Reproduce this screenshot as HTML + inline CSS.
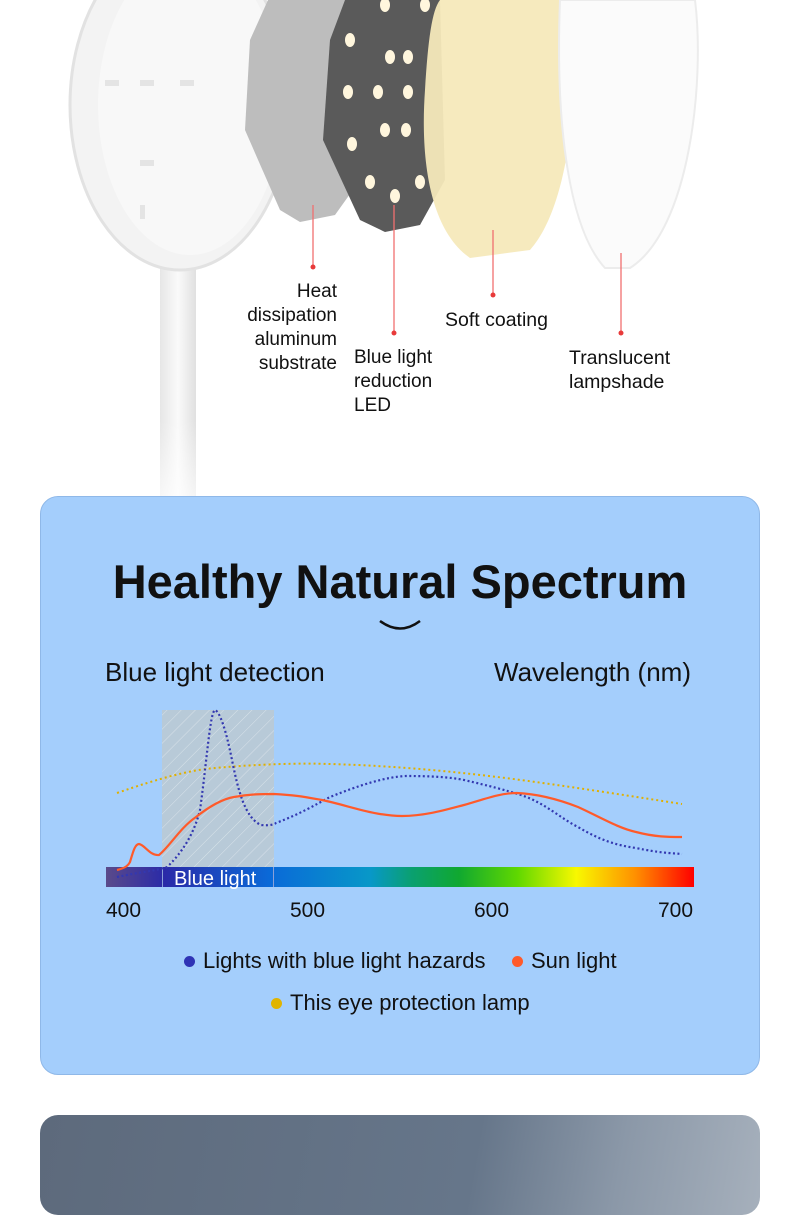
<!DOCTYPE html>
<html><head><meta charset="utf-8"><style>
html,body{margin:0;padding:0;}
body{width:800px;height:1178px;position:relative;overflow:hidden;background:#fff;font-family:"Liberation Sans",sans-serif;}
.t{position:absolute;white-space:nowrap;color:#111;}
</style></head><body>
<svg width="800" height="500" style="position:absolute;left:0;top:0">
  <defs>
    <linearGradient id="stem" x1="0" x2="1"><stop offset="0" stop-color="#e6e6e6"/><stop offset="0.5" stop-color="#fafafa"/><stop offset="1" stop-color="#e0e0e0"/></linearGradient>
    <linearGradient id="fade" x1="0" y1="0" x2="0" y2="1"><stop offset="0" stop-color="#fff" stop-opacity="0"/><stop offset="1" stop-color="#fff" stop-opacity="0.7"/></linearGradient>
  </defs>
  <rect x="160" y="250" width="36" height="250" fill="url(#stem)"/>
  <rect x="150" y="420" width="60" height="80" fill="url(#fade)"/>
  <ellipse cx="180" cy="105" rx="110" ry="165" fill="#f3f3f3" stroke="#e2e2e2" stroke-width="3"/>
  <ellipse cx="190" cy="105" rx="92" ry="150" fill="#f8f8f8"/>
  <g fill="#e4e4e4">
    <rect x="105" y="80" width="14" height="6"/><rect x="140" y="80" width="14" height="6"/><rect x="180" y="80" width="14" height="6"/>
    <rect x="140" y="160" width="14" height="6"/><rect x="140" y="205" width="5" height="14"/>
  </g>
  <polygon points="268,0 350,0 360,180 335,215 300,222 280,210 245,130 250,40" fill="#bdbdbd"/>
  <polygon points="345,0 440,0 445,180 420,225 385,232 360,220 323,140 330,40" fill="#5a5a5a"/>
  <g fill="#fff6dd">
    <ellipse cx="350" cy="40" rx="5" ry="7"/><ellipse cx="390" cy="57" rx="5" ry="7"/><ellipse cx="408" cy="57" rx="5" ry="7"/>
    <ellipse cx="348" cy="92" rx="5" ry="7"/><ellipse cx="378" cy="92" rx="5" ry="7"/><ellipse cx="408" cy="92" rx="5" ry="7"/>
    <ellipse cx="385" cy="130" rx="5" ry="7"/><ellipse cx="406" cy="130" rx="5" ry="7"/><ellipse cx="352" cy="144" rx="5" ry="7"/>
    <ellipse cx="370" cy="182" rx="5" ry="7"/><ellipse cx="420" cy="182" rx="5" ry="7"/><ellipse cx="395" cy="196" rx="5" ry="7"/>
    <ellipse cx="385" cy="5" rx="5" ry="7"/><ellipse cx="425" cy="5" rx="5" ry="7"/>
  </g>
  <path d="M440,0 L570,0 C580,60 575,200 530,250 L470,258 C430,230 420,160 425,90 C428,40 432,10 440,0Z" fill="#f5e9bb" opacity="0.95"/>
  <path d="M560,0 L695,0 C705,80 690,230 630,268 L605,268 C570,230 555,130 560,0Z" fill="#fbfbfb" stroke="#ececec" stroke-width="2"/>
  <g stroke="#f07070" stroke-width="1.3">
    <line x1="313" y1="205" x2="313" y2="266"/><line x1="394" y1="205" x2="394" y2="332"/>
    <line x1="493" y1="230" x2="493" y2="294"/><line x1="621" y1="253" x2="621" y2="332"/>
  </g>
  <g fill="#e83a3a"><circle cx="313" cy="267" r="2.5"/><circle cx="394" cy="333" r="2.5"/><circle cx="493" cy="295" r="2.5"/><circle cx="621" cy="333" r="2.5"/></g>
</svg>
<div class="t" style="left:215px;top:280px;width:122px;text-align:right;font-size:19px;line-height:24px;white-space:normal">Heat dissipation aluminum substrate</div>
<div class="t" style="left:354px;top:346px;font-size:19px;line-height:24px">Blue light<br>reduction<br>LED</div>
<div class="t" style="left:445px;top:308px;font-size:19.5px;line-height:24px">Soft coating</div>
<div class="t" style="left:569px;top:346px;font-size:19.5px;line-height:24px">Translucent<br>lampshade</div>

<div style="position:absolute;left:40px;top:496px;width:718px;height:577px;background:#a4cefc;border:1px solid #8fb8e8;border-radius:18px"></div>
<div class="t" style="left:0;width:800px;text-align:center;top:554px;font-size:47px;font-weight:bold;line-height:56px">Healthy Natural Spectrum</div>
<svg width="800" height="1178" style="position:absolute;left:0;top:0">
  <path d="M380,621 Q400,636 420,621" fill="none" stroke="#111" stroke-width="2.5"/>
  <defs>
    <pattern id="h" width="10" height="10" patternUnits="userSpaceOnUse" patternTransform="rotate(45)"><line x1="0" y1="0" x2="0" y2="10" stroke="#e0e8ee" stroke-width="1"/></pattern>
    <linearGradient id="sp" x1="0" x2="1">
      <stop offset="0" stop-color="#5a4a8a"/><stop offset="0.1" stop-color="#2a2aa8"/><stop offset="0.28" stop-color="#0a6ad8"/><stop offset="0.45" stop-color="#0898c8"/><stop offset="0.52" stop-color="#0aa070"/><stop offset="0.6" stop-color="#10a830"/><stop offset="0.7" stop-color="#60d800"/><stop offset="0.8" stop-color="#f8f800"/><stop offset="0.9" stop-color="#ff9000"/><stop offset="1" stop-color="#ff0000"/>
    </linearGradient>
  </defs>
  <rect x="162" y="710" width="112" height="157" fill="#b8cad8"/>
  <rect x="162" y="710" width="112" height="157" fill="url(#h)" opacity="0.8"/>
  <rect x="106" y="867" width="588" height="20" fill="url(#sp)"/>
  <line x1="162.5" y1="867" x2="162.5" y2="887" stroke="#8aa0d8"/><line x1="273.5" y1="867" x2="273.5" y2="887" stroke="#8aa0d8"/>
  <text x="174" y="885" font-family="Liberation Sans, sans-serif" font-size="20" fill="#fff">Blue light</text>
  <path d="M117,793 C160,778 190,770 215,768 C260,764 300,763 330,764 C400,766 460,772 521,780 C580,788 630,796 682,804" fill="none" stroke="#e0b000" stroke-width="2" stroke-dasharray="2,3"/>
  <path d="M117,877 C140,872 155,871 167,867 C185,850 195,830 200,810 C207,760 210,712 215,710 C220,712 226,730 232,760 C238,790 245,818 261,825 C270,826 275,824 276,823 C300,814 315,805 330,797 C360,785 385,777 406,776 C430,776 450,777 464,780 C490,786 505,790 521,795 C545,803 560,818 578,827 C600,840 615,845 636,848 C660,853 670,853 682,854" fill="none" stroke="#3338b0" stroke-width="2.2" stroke-dasharray="2,2.5"/>
  <path d="M117,870 C125,868 128,866 130,862 C133,852 135,844 139,844 C145,845 150,856 159,855 C170,846 180,828 196,817 C210,806 222,799 234,797 C250,794 262,794 274,794 C295,795 305,797 322,800 C350,806 375,816 402,816 C425,816 445,810 464,805 C485,799 500,793 517,793 C540,794 560,800 578,807 C600,817 618,828 636,832 C655,837 668,837 682,837" fill="none" stroke="#ff5a2a" stroke-width="2.2"/>
</svg>
<div class="t" style="left:105px;top:657px;font-size:26px;line-height:30px">Blue light detection</div>
<div class="t" style="left:494px;top:657px;font-size:26px;line-height:30px">Wavelength (nm)</div>
<div class="t" style="left:106px;top:899px;font-size:21px">400</div>
<div class="t" style="left:290px;top:899px;font-size:21px">500</div>
<div class="t" style="left:474px;top:899px;font-size:21px">600</div>
<div class="t" style="left:658px;top:899px;font-size:21px">700</div>
<div class="t" style="left:184px;top:948px;font-size:22px;line-height:26px"><span style="display:inline-block;width:11px;height:11px;border-radius:50%;background:#2f33b5;margin-right:8px;vertical-align:1px"></span>Lights with blue light hazards</div>
<div class="t" style="left:512px;top:948px;font-size:22px;line-height:26px"><span style="display:inline-block;width:11px;height:11px;border-radius:50%;background:#ff5a2a;margin-right:8px;vertical-align:1px"></span>Sun light</div>
<div class="t" style="left:271px;top:990px;font-size:22px;line-height:26px"><span style="display:inline-block;width:11px;height:11px;border-radius:50%;background:#e0b400;margin-right:8px;vertical-align:1px"></span>This eye protection lamp</div>

<div style="position:absolute;left:40px;top:1115px;width:720px;height:100px;border-radius:18px;background:linear-gradient(100deg,#5d6a7c 0%,#66768a 60%,#8b98a8 80%,#a6b0bc 100%)"></div>
</body></html>
